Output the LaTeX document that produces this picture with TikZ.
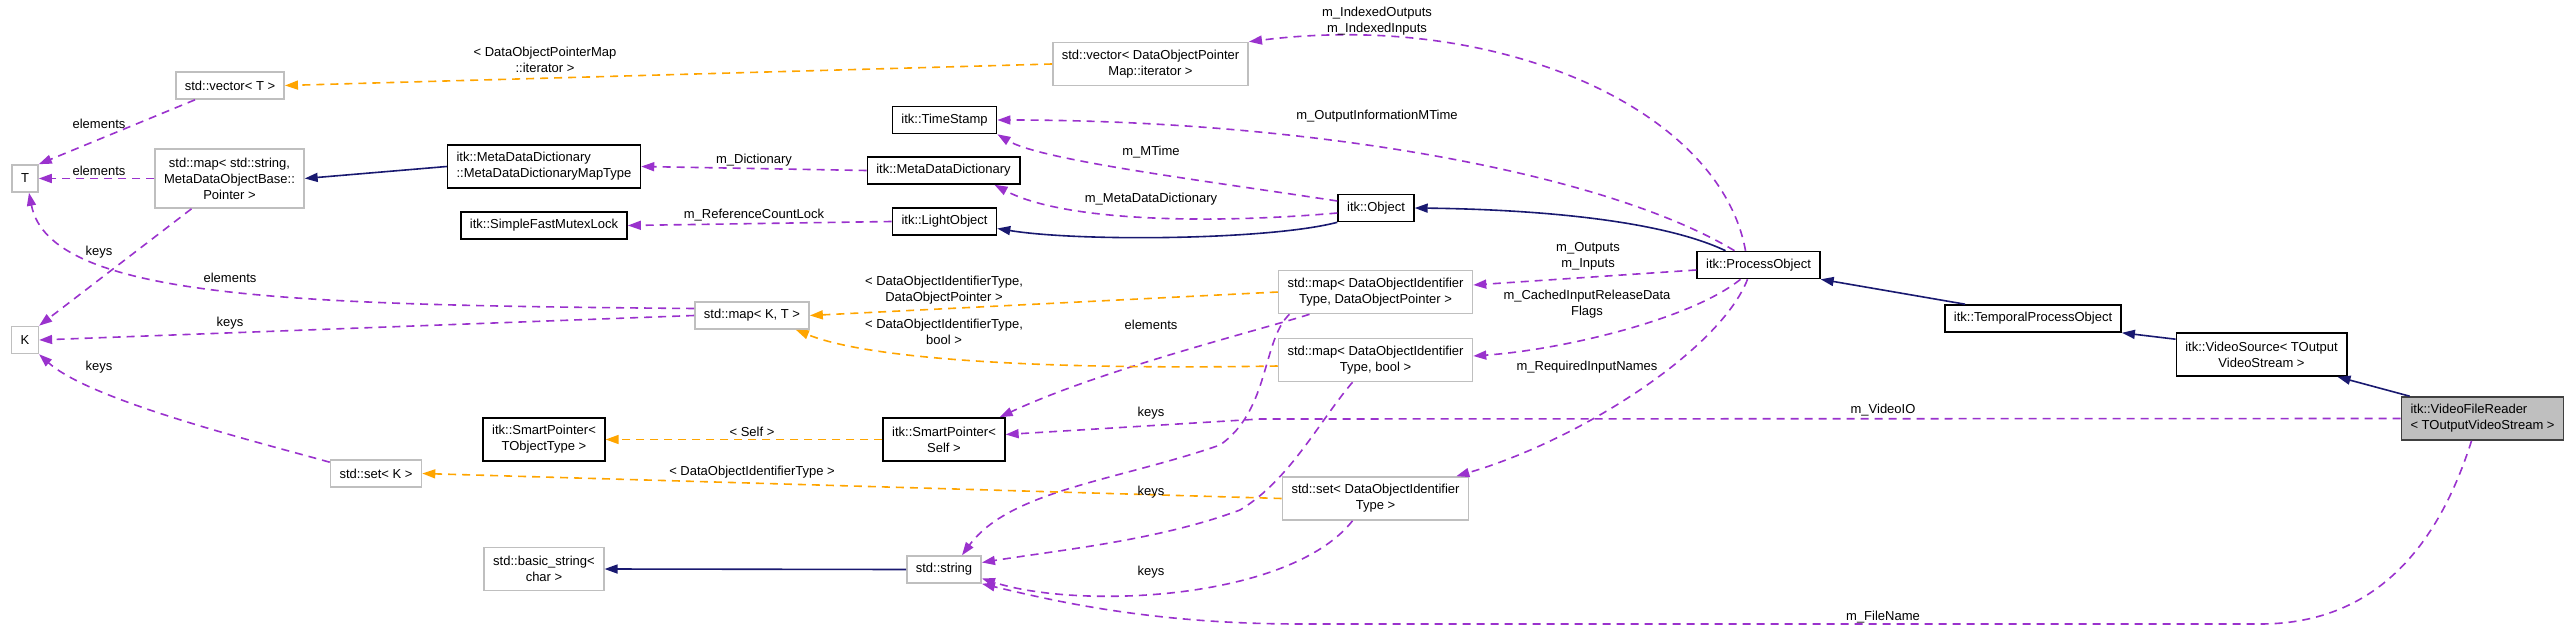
\documentclass[tikz,border=0pt]{standalone}
\usepackage{fontspec}
\setmainfont{Liberation Sans}
\usetikzlibrary{arrows.meta}
\definecolor{edgenavy}{HTML}{191970}
\definecolor{edgepurple}{HTML}{9A32CD}
\definecolor{edgeorange}{HTML}{FFA500}
\definecolor{extgray}{HTML}{BFBFBF}
\definecolor{selfgray}{HTML}{404040}
\tikzset{
    cls/.style={draw=black, line width=1.6pt, fill=white, font=\fontsize{13}{16}\selectfont,
        inner xsep=9pt, inner ysep=2pt, minimum height=27pt, align=center},
    ext/.style={cls, draw=extgray},
    h2/.style={minimum height=43pt},
    h3/.style={minimum height=59pt},
    elabel/.style={font=\fontsize{13}{16}\selectfont, align=center, inner sep=0pt},
    inherit/.style={draw=edgenavy, line width=1.6pt, -{Triangle[length=13pt,width=9pt]}},
    usage/.style={draw=edgepurple, line width=1.6pt, dash pattern=on 8pt off 6pt,
        -{Triangle[length=13pt,width=9pt]}},
    tmpl/.style={draw=edgeorange, line width=1.6pt, dash pattern=on 8pt off 6pt,
        -{Triangle[length=13pt,width=9pt]}}
}
\begin{document}
\begin{tikzpicture}[x=1pt, y=-1pt]
    \useasboundingbox (0,0) rectangle (2571,631);
    \node[ext] (vecT) at (230,85.5) {std::vector< T >};
    \node[ext] (T) at (25,178.5) {T};
    \node[ext, h3] (mapStr) at (229.5,178.5) {std::map< std::string,\\MetaDataObjectBase::\\Pointer >};
    \node[cls, h2, align=left] (mddMap) at (544,166.5) {itk::MetaDataDictionary\\::MetaDataDictionaryMapType};
    \node[cls] (mutex) at (544,225.5) {itk::SimpleFastMutexLock};
    \node[ext] (mapKT) at (752,315.5) {std::map< K, T >};
    \node[ext] (K) at (25,340) {K};
    \node[ext] (setK) at (376,473.5) {std::set< K >};
    \node[cls, h2] (spTObj) at (544,439.5) {itk::SmartPointer<\\TObjectType >};
    \node[ext, h2] (basicStr) at (544,569) {std::basic\_string<\\char >};
    \node[ext, h2] (vecDOP) at (1150.5,64) {std::vector< DataObjectPointer\\Map::iterator >};
    \node[cls] (stamp) at (944.5,120) {itk::TimeStamp};
    \node[cls] (mdd) at (943.5,170.5) {itk::MetaDataDictionary};
    \node[cls] (light) at (944.5,221.5) {itk::LightObject};
    \node[cls] (obj) at (1376,208) {itk::Object};
    \node[cls] (proc) at (1758.5,265) {itk::ProcessObject};
    \node[ext, h2] (mapDOP) at (1375.5,292) {std::map< DataObjectIdentifier\\Type, DataObjectPointer >};
    \node[ext, h2] (mapBool) at (1375.5,360) {std::map< DataObjectIdentifier\\Type, bool >};
    \node[cls, h2] (spSelf) at (944,439.5) {itk::SmartPointer<\\Self >};
    \node[ext, h2] (setDOI) at (1375.5,498.5) {std::set< DataObjectIdentifier\\Type >};
    \node[ext] (str) at (944,569.5) {std::string};
    \node[cls] (temporal) at (2033,318.5) {itk::TemporalProcessObject};
    \node[cls, h2] (vidSrc) at (2261.5,354.5) {itk::VideoSource< TOutput\\VideoStream >};
    \node[cls, h2, align=left, fill=extgray, draw=selfgray] (reader) at (2482.5,418.5) {itk::VideoFileReader\\< TOutputVideoStream >};

    \draw[inherit] (mddMap.west) -- (mapStr.east);
    \draw[inherit] (obj.south west) .. controls (1270,240) and (1080,242) .. ([yshift=-7pt]light.east);
    \draw[inherit] ([xshift=-33pt]proc.north) .. controls (1650,215) and (1500,209) .. (obj.east);
    \draw[inherit] ([xshift=21pt]temporal.north west) -- (proc.south east);
    \draw[inherit] ([yshift=-7pt]vidSrc.north west) -- (temporal.south east);
    \draw[inherit] ([xshift=9pt]reader.north west) -- ([xshift=-10pt]vidSrc.south east);
    \draw[inherit] (str.west) -- (basicStr.east);

    \draw[usage] ([xshift=20pt]vecT.south west) -- (T.north east);
    \draw[usage] (mapStr.west) -- (T.east);
    \draw[usage] ([yshift=7pt]mapKT.west) .. controls (300,305) and (50,300) .. ([xshift=4pt]T.south);
    \draw[usage] ([xshift=-38pt]mapStr.south) -- (K.north east);
    \draw[usage] (mapKT.west) -- (K.east);
    \draw[usage] ([yshift=-3pt]setK.north west) .. controls (250,440) and (90,400) .. (K.south east);
    \draw[usage] (mdd.west) -- (mddMap.east);
    \draw[usage] (light.west) -- (mutex.east);
    \draw[usage] ([yshift=7pt]obj.west) .. controls (1200,180) and (1040,160) .. (stamp.south east);
    \draw[usage] ([yshift=-5pt]obj.west) .. controls (1200,225) and (1060,220) .. ([xshift=-26pt]mdd.south east);
    \draw[usage] ([xshift=-24pt]proc.north) .. controls (1600,170) and (1300,120) .. (stamp.east);
    \draw[usage] ([xshift=-13pt]proc.north) .. controls (1720,110) and (1500,10) .. (vecDOP.north east);
    \draw[usage] ([yshift=-5pt]proc.west) -- ([yshift=7pt]mapDOP.east);
    \draw[usage] ([xshift=-18pt]proc.south) .. controls (1690,320) and (1560,350) .. ([yshift=4pt]mapBool.east);
    \draw[usage] ([xshift=-11pt]proc.south) .. controls (1720,350) and (1580,440) .. ([xshift=-13pt]setDOI.north east);
    \draw[usage] (reader.west) -- (1260,419) -- ([yshift=5pt]spSelf.east);
    \draw[usage] ([xshift=-66pt]mapDOP.south) .. controls (1260,330) and (1100,370) .. ([xshift=-6pt]spSelf.north east);
    \draw[usage] ([xshift=-86pt]mapDOP.south) .. controls (1262,340) and (1270,410) .. (1220,445)
        .. controls (1120,480) and (1010,490) .. ([xshift=18pt]str.north);
    \draw[usage] ([xshift=-23pt]mapBool.south) .. controls (1320,420) and (1290,480) .. (1240,510)
        .. controls (1160,540) and (1060,550) .. ([yshift=7pt]str.east);
    \draw[usage] ([xshift=-23pt]setDOI.south) .. controls (1290,600) and (1080,610) .. ([yshift=-9pt]str.east);
    \draw[usage] ([xshift=-11pt]reader.south) .. controls (2440,540) and (2380,624) .. (2260,624) -- (1300,624)
        .. controls (1150,624) and (1050,600) .. (str.south east);

    \draw[tmpl] (vecDOP.west) -- (vecT.east);
    \draw[tmpl] (mapDOP.west) -- (mapKT.east);
    \draw[tmpl] ([yshift=-6pt]mapBool.west) .. controls (1050,370) and (870,360) .. ([xshift=-14pt]mapKT.south east);
    \draw[tmpl] (setDOI.west) -- (setK.east);
    \draw[tmpl] (spSelf.west) -- (spTObj.east);

    \node[elabel] (lElemVec) at (99,124) {elements};
    \node[elabel] (lElemStr) at (99,171) {elements};
    \node[elabel] (lElemKT) at (230,278) {elements};
    \node[elabel] (lKeysStr) at (99,252) {keys};
    \node[elabel] (lKeysKT) at (230,323) {keys};
    \node[elabel] (lKeysSet) at (99,367) {keys};
    \node[elabel] (lDict) at (754,160) {m\_Dictionary};
    \node[elabel] (lLock) at (754,215) {m\_ReferenceCountLock};
    \node[elabel] (lMTime) at (1151,152) {m\_MTime};
    \node[elabel] (lMeta) at (1151,199) {m\_MetaDataDictionary};
    \node[elabel] (lOutInfo) at (1377,116) {m\_OutputInformationMTime};
    \node[elabel] (lIndexed) at (1377,21) {m\_IndexedOutputs\\m\_IndexedInputs};
    \node[elabel] (lOutputs) at (1588,256) {m\_Outputs\\m\_Inputs};
    \node[elabel] (lCached) at (1587,304) {m\_CachedInputReleaseData\\Flags};
    \node[elabel] (lRequired) at (1587,367) {m\_RequiredInputNames};
    \node[elabel] (lVideoIO) at (1883,410) {m\_VideoIO};
    \node[elabel] (lElemDOP) at (1151,325) {elements};
    \node[elabel] (lKeysDOP) at (1151,413) {keys};
    \node[elabel] (lKeysBool) at (1151,492) {keys};
    \node[elabel] (lKeysDOI) at (1151,572) {keys};
    \node[elabel] (lFileName) at (1883,617) {m\_FileName};
    \node[elabel] (lIterator) at (545,60) {< DataObjectPointerMap\\::iterator >};
    \node[elabel] (lPointer) at (944,290.5) {< DataObjectIdentifierType,\\DataObjectPointer >};
    \node[elabel] (lBool) at (944,332) {< DataObjectIdentifierType,\\bool >};
    \node[elabel] (lIdent) at (752,472) {< DataObjectIdentifierType >};
    \node[elabel] (lSelf) at (752,432) {< Self >};
\end{tikzpicture}
\end{document}
